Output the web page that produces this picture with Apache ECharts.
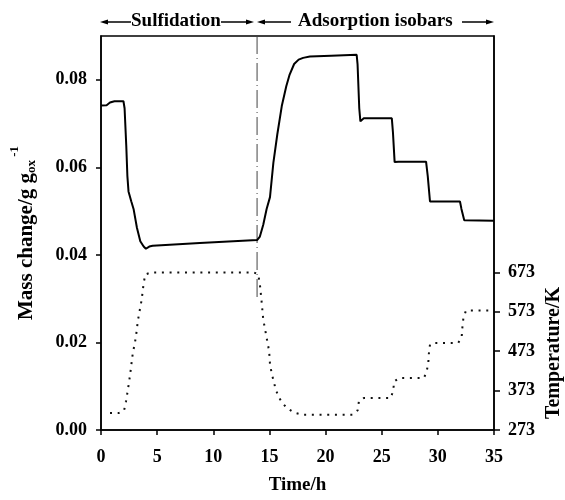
<!DOCTYPE html>
<html>
<head>
<meta charset="utf-8">
<script src="https://cdn.jsdelivr.net/npm/echarts@6/dist/echarts.min.js"></script>
<style>html,body{margin:0;padding:0;background:#fff}#c{width:565px;height:500px}</style>
</head>
<body>
<div id="c"></div>
<script>
// Mass change (g/g_ox) vs time (h)
const massTime = [0, 0.5, 0.8, 1.2, 2.0, 2.1, 2.25, 2.35, 2.45, 2.7, 2.9, 3.2, 3.5, 3.8, 4.0, 4.3, 4.6, 8.8, 13.9,
  14.15, 14.45, 14.75, 15.05, 15.35, 15.7, 16.1, 16.5, 16.8, 17.2, 17.6, 18.0, 18.6, 20.5, 22.77,
  22.85, 23.0, 23.1, 23.4, 25.9, 26.0, 26.15, 26.5, 28.95, 29.1, 29.3, 31.97, 32.1, 32.35, 35];
const massValue = [0.0741, 0.0742, 0.0748, 0.0751, 0.0751, 0.0735, 0.0650, 0.0580, 0.0545, 0.0522, 0.0505, 0.0462, 0.0431, 0.0419, 0.0414, 0.0419, 0.0421, 0.0427, 0.0434,
  0.0442, 0.0469, 0.0505, 0.0532, 0.0610, 0.0675, 0.0740, 0.0785, 0.0812, 0.0836, 0.0846, 0.0850, 0.0853, 0.0855, 0.0857,
  0.0835, 0.0735, 0.0705, 0.0712, 0.0712, 0.0680, 0.0612, 0.0613, 0.0613, 0.0580, 0.0522, 0.0522, 0.0505, 0.0479, 0.0478];
// Temperature (K) vs time (h)
const tempTime = [0.8, 1.55, 2.05, 2.23, 2.36, 2.48, 2.6, 2.7, 2.8, 2.95, 3.1, 3.2, 3.3, 3.45, 3.6, 3.7, 3.8, 3.95, 4.5, 13.6,
  14.0, 14.15, 14.3, 14.45, 14.6, 14.75, 14.9, 15.0, 15.05, 15.2, 15.35, 15.55, 15.8, 16.15, 16.6, 17.2, 17.9, 22.4,
  22.86, 22.97, 23.4, 25.8, 26.03, 26.1, 26.57, 28.76, 29.0, 29.15, 29.2, 29.3, 29.74, 31.82, 32.12, 32.18, 32.27, 32.5, 35];
const tempValue = [316, 316, 322, 346, 369, 391, 415, 438, 461, 485, 507, 531, 553, 577, 600, 622, 646, 668, 673, 673,
  668, 643, 600, 553, 531, 507, 485, 463, 440, 417, 400, 377, 358, 341, 328, 317, 312, 312,
  323, 346, 354, 354, 373, 396, 405, 405, 421, 444, 467, 490, 494, 494, 509, 532, 556, 576, 576];
// Boundary between sulfidation and adsorption (time, h)
const boundaryTime = 13.9;
const boundaryRange = [0.09, 0.0302];
// Tick labels
const xTicks = [0, 5, 10, 15, 20, 25, 30, 35];
const massTicks = [0, 0.02, 0.04, 0.06, 0.08];
const tempTicks = [273, 373, 473, 573, 673];

const FONT = '"Liberation Serif", "Times New Roman", serif';
const FS = 18;
const txt = {color: '#000', fontFamily: FONT, fontWeight: 'bold', fontSize: FS};

const chart = echarts.init(document.getElementById('c'), null, {renderer: 'canvas'});
const axisLineStyle = {color: '#000', width: 1.5};

chart.setOption({
  animation: false,
  backgroundColor: '#fff',
  grid: {left: 101, top: 36, width: 393, height: 397, show: true, borderColor: '#000', borderWidth: 1.5, backgroundColor: 'transparent'},
  xAxis: {type: 'value', min: 0, max: 35, interval: 5,
     axisLine: {show: true, onZero: false, lineStyle: axisLineStyle},
     axisTick: {show: true, length: 5, lineStyle: axisLineStyle, customValues: xTicks},
     axisLabel: Object.assign({margin: 18, customValues: xTicks}, txt),
     splitLine: {show: false},
     name: 'Time/h', nameLocation: 'middle', nameGap: 46,
     nameTextStyle: Object.assign({}, txt, {fontSize: 19})},
  yAxis: [
    {type: 'value', min: 0, max: 0.09, interval: 0.02,
     axisLine: {show: true, onZero: false, lineStyle: axisLineStyle},
     axisTick: {show: true, length: 5, lineStyle: axisLineStyle, customValues: massTicks},
     axisLabel: Object.assign({margin: 14, customValues: massTicks, formatter: v => v.toFixed(2)}, txt),
     splitLine: {show: false},
     name: '{m|Mass change/g g}{sub|ox}{sup| -1}', nameLocation: 'middle', nameGap: 52, nameRotate: 90,
     nameTextStyle: Object.assign({}, txt, {
       rich: {
         m: {fontFamily: FONT, fontWeight: 'bold', fontSize: 21, color: '#000', lineHeight: 36, verticalAlign: 'middle'},
         sub: {fontFamily: FONT, fontWeight: 'bold', fontSize: 13, color: '#000', lineHeight: 13, verticalAlign: 'bottom', padding: [0, 0, 6, 0]},
         sup: {fontFamily: FONT, fontWeight: 'bold', fontSize: 13, color: '#000', lineHeight: 13, verticalAlign: 'top'}
       }
     })},
    {type: 'value', position: 'right', min: 273, max: 1273, interval: 100,
     axisLine: {show: true, onZero: false, lineStyle: axisLineStyle},
     axisTick: {show: true, length: 6, lineStyle: axisLineStyle, customValues: tempTicks},
     axisLabel: Object.assign({margin: 14, customValues: tempTicks}, txt),
     splitLine: {show: false}}
  ],
  graphic: [
    {type: 'text', x: 554, y: 353, rotation: Math.PI / 2,
     style: {text: 'Temperature/K', font: 'bold 20px ' + FONT, fill: '#000', align: 'center', verticalAlign: 'middle'}},
    {type: 'text', left: 131, top: 12, style: {text: 'Sulfidation', font: 'bold 19px ' + FONT, fill: '#000'}},
    {type: 'text', left: 298, top: 12, style: {text: 'Adsorption isobars', font: 'bold 19px ' + FONT, fill: '#000'}},
    {type: 'line', shape: {x1: 103, y1: 22, x2: 131, y2: 22}, style: {stroke: '#000', lineWidth: 1.5}},
    {type: 'polygon', shape: {points: [[100, 22], [108, 19.5], [108, 24.5]]}, style: {fill: '#000'}},
    {type: 'line', shape: {x1: 221, y1: 22, x2: 250, y2: 22}, style: {stroke: '#000', lineWidth: 1.5}},
    {type: 'polygon', shape: {points: [[254, 22], [246, 19.5], [246, 24.5]]}, style: {fill: '#000'}},
    {type: 'line', shape: {x1: 261, y1: 22, x2: 291, y2: 22}, style: {stroke: '#000', lineWidth: 1.5}},
    {type: 'polygon', shape: {points: [[257, 22], [265, 19.5], [265, 24.5]]}, style: {fill: '#000'}},
    {type: 'line', shape: {x1: 462, y1: 22, x2: 490, y2: 22}, style: {stroke: '#000', lineWidth: 1.5}},
    {type: 'polygon', shape: {points: [[494, 22], [486, 19.5], [486, 24.5]]}, style: {fill: '#000'}}
  ],
  series: [
    {type: 'line', yAxisIndex: 0, symbol: 'none', silent: true,
     data: [[boundaryTime, boundaryRange[0]], [boundaryTime, boundaryRange[1]]],
     lineStyle: {color: '#444', width: 1, type: [18, 4, 1, 4]}},
    {type: 'line', yAxisIndex: 0, symbol: 'none', silent: true,
     data: massTime.map((t, i) => [t, massValue[i]]),
     lineStyle: {color: '#000', width: 2}},
    {type: 'line', yAxisIndex: 1, symbol: 'none', silent: true,
     data: tempTime.map((t, i) => [t, tempValue[i]]),
     lineStyle: {color: '#111', width: 2, type: [2, 5.7]}}
  ]
});
</script>
</body>
</html>
